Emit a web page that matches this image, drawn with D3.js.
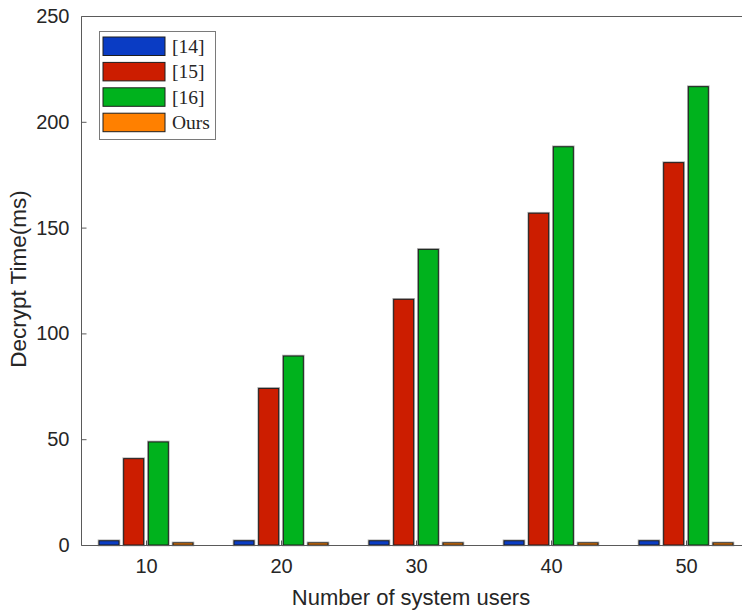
<!DOCTYPE html>
<html>
<head>
<meta charset="utf-8">
<script src="https://cdn.jsdelivr.net/npm/d3@7"></script>
<style>
  html, body { margin: 0; padding: 0; background: #fff; }
  svg { display: block; }
</style>
</head>
<body>
<svg id="chart" width="742" height="614"></svg>
<script>
// Number of system users on the x axis
const users = [10, 20, 30, 40, 50];
// Series names shown in the legend
const seriesNames = ["[14]", "[15]", "[16]", "Ours"];
// Decrypt time (ms) per scheme
const ref14 = [2.0, 2.0, 2.0, 2.0, 2.0];
const ref15 = [40.8, 74.0, 116.1, 156.8, 180.7];
const ref16 = [48.7, 89.3, 139.7, 188.2, 216.6];
const ours  = [1.0, 1.0, 1.0, 1.0, 1.0];
const yTicks = [0, 50, 100, 150, 200, 250];

const seriesValues = [ref14, ref15, ref16, ours];
const colors = ["#0a3cc4", "#cc1d00", "#00b21d", "#ff8000"];

const svg = d3.select("#chart");
const plotLeft = 81, plotRight = 742, plotTop = 16, plotBottom = 545;

const x = d3.scaleLinear().domain([10, 50]).range([146, 686]);
const y = d3.scaleLinear().domain([0, 250]).range([plotBottom, plotTop]);
const inner = d3.scaleBand().domain(seriesNames).range([-47, 47]).paddingInner(0.19);

const axisColor = "#5a5a5a";
const textColor = "#262626";

// bars
const groups = svg.append("g").selectAll("g")
  .data(seriesNames.map((name, i) => ({ name, values: seriesValues[i], color: colors[i] })))
  .join("g");

groups.each(function(s) {
  const g = d3.select(this);
  const data = users.map((u, j) => ({ u, v: s.values[j] }));
  // soft halo around each bar edge
  g.selectAll("rect.halo").data(data).join("rect")
    .attr("class", "halo")
    .attr("x", d => x(d.u) + inner(s.name))
    .attr("y", d => y(d.v))
    .attr("width", inner.bandwidth())
    .attr("height", d => y(0) - y(d.v))
    .attr("fill", "none")
    .attr("stroke", "#b0b0b0")
    .attr("stroke-width", 2.6);
  g.selectAll("rect.bar").data(data).join("rect")
    .attr("class", "bar")
    .attr("x", d => x(d.u) + inner(s.name))
    .attr("y", d => y(d.v))
    .attr("width", inner.bandwidth())
    .attr("height", d => y(0) - y(d.v))
    .attr("fill", s.color)
    .attr("stroke", "#1e1e1e")
    .attr("stroke-width", 1);
});

// frame: left, bottom and top lines
svg.append("path")
  .attr("d", `M${plotRight},${plotTop + 0.5}H${plotLeft + 0.5}V${plotBottom + 0.5}H${plotRight}`)
  .attr("fill", "none")
  .attr("stroke", axisColor)
  .attr("stroke-width", 1);

// y axis ticks (inward) and labels
const yAxis = d3.axisLeft(y).tickValues(yTicks).tickSizeInner(-5).tickSizeOuter(0).tickPadding(12);
const gy = svg.append("g").attr("transform", `translate(${plotLeft + 0.5},0)`).call(yAxis);
gy.select(".domain").remove();
gy.selectAll(".tick line").attr("stroke", axisColor);
gy.selectAll(".tick text")
  .attr("fill", textColor)
  .style("font-family", "'Liberation Sans', Arial, sans-serif")
  .style("font-size", "20px");

// x axis ticks (inward) and labels
const xAxis = d3.axisBottom(x).tickValues(users).tickSizeInner(-5).tickSizeOuter(0).tickPadding(13);
const gx = svg.append("g").attr("transform", `translate(0,${plotBottom + 0.5})`).call(xAxis);
gx.select(".domain").remove();
gx.selectAll(".tick line").attr("stroke", axisColor);
gx.selectAll(".tick text")
  .attr("fill", textColor)
  .style("font-family", "'Liberation Sans', Arial, sans-serif")
  .style("font-size", "20px");

// axis titles
svg.append("text")
  .attr("x", 411).attr("y", 605)
  .attr("text-anchor", "middle")
  .attr("fill", textColor)
  .style("font-family", "'Liberation Sans', Arial, sans-serif")
  .style("font-size", "22px")
  .text("Number of system users");

svg.append("text")
  .attr("transform", "translate(26,279) rotate(-90)")
  .attr("text-anchor", "middle")
  .attr("fill", textColor)
  .style("font-family", "'Liberation Sans', Arial, sans-serif")
  .style("font-size", "22.5px")
  .text("Decrypt Time(ms)");

// legend
const lg = svg.append("g").attr("transform", "translate(99,31)");
lg.append("rect")
  .attr("x", 0.5).attr("y", 0.5)
  .attr("width", 116).attr("height", 108)
  .attr("fill", "#fff")
  .attr("stroke", "#7a7a7a")
  .attr("stroke-width", 1);

const items = lg.selectAll("g.item")
  .data(seriesNames.map((name, i) => ({ name, color: colors[i] })))
  .join("g")
  .attr("class", "item")
  .attr("transform", (d, i) => `translate(4,${6 + i * 25.4})`);

items.append("rect")
  .attr("width", 62).attr("height", 18.5)
  .attr("fill", d => d.color)
  .attr("stroke", "#1e1e1e")
  .attr("stroke-width", 1);

items.append("text")
  .attr("x", 69).attr("y", 16)
  .attr("fill", textColor)
  .style("font-family", "'Liberation Serif', 'DejaVu Serif', serif")
  .style("font-size", "19.5px")
  .text(d => d.name);
</script>
</body>
</html>
